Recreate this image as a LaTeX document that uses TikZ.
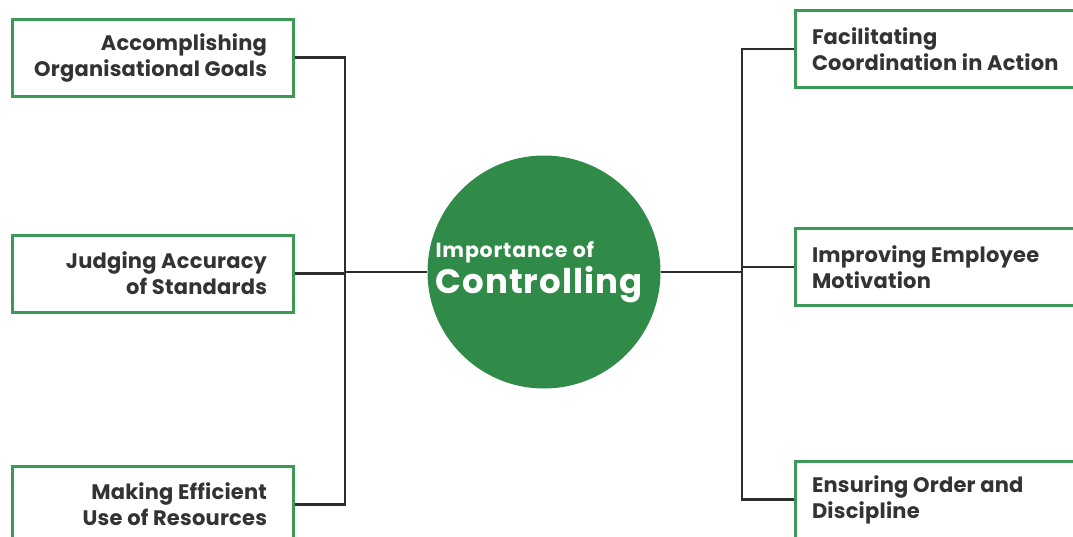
\documentclass[tikz,border=0pt]{standalone}
\usepackage{fontspec}
\setmainfont{Poppins}
\definecolor{boxgreen}{HTML}{3C9A58}
\definecolor{circgreen}{HTML}{2F8B47}
\definecolor{txt}{HTML}{333333}
\definecolor{linec}{HTML}{2E2E2E}
\newcommand{\LL}[1]{\makebox[229pt][r]{#1}}
\newcommand{\RL}[1]{\makebox[247pt][l]{#1}}
\begin{document}
\begin{tikzpicture}[x=1pt,y=-1pt,
  box/.style={draw=boxgreen, line width=3pt, fill=white, minimum height=77pt,
    inner ysep=0pt, align=center, text=txt,
    font=\bfseries\fontsize{21}{26}\selectfont\addfontfeature{LetterSpace=1}},
  lbox/.style={box, inner xsep=26pt},
  rbox/.style={box, inner xsep=17pt},
  conn/.style={draw=linec, line width=2.8pt},
  hub/.style={circle, fill=circgreen, minimum size=233pt, inner sep=0pt,
    text=white, align=left}
]
\useasboundingbox (0,0) rectangle (1073,536);
\clip (0,0) rectangle (1073,536);
\fill[white] (0,0) rectangle (1073,536);

\node[hub] (c) at (544,272) {{\bfseries\fontsize{20.5}{22}\selectfont\addfontfeature{LetterSpace=4}Importance of}\\[3pt]{\bfseries\fontsize{34}{34}\selectfont\addfontfeature{LetterSpace=3}Controlling\kern10pt}};

\coordinate (jl) at (345,270);
\coordinate (jr) at (742,270);

\draw[conn] (c.west) -- (c.west -| jl);
\draw[conn] (c.east) -- (c.east -| jr);

\node[lbox] (l1) at (152.5,57.5) {\LL{Accomplishing}\\\LL{Organisational Goals}};
\node[lbox] (l2) at (152.5,273.5) {\LL{Judging Accuracy}\\\LL{of Standards}};
\node[lbox] (l3) at (152.5,504.5) {\LL{Making Efficient}\\\LL{Use of Resources}};

\node[rbox] (r1) at (935.5,49) {\RL{Facilitating}\\\RL{Coordination in Action}};
\node[rbox] (r2) at (935.5,267) {\RL{Improving Employee}\\\RL{Motivation}};
\node[rbox] (r3) at (935.5,499.5) {\RL{Ensuring Order and}\\\RL{Discipline}};

\draw[conn] (l1.east) -| (jl) |- (l3.east);
\draw[conn] (l2.east) -- (l2.east -| jl);
\draw[conn] (r1.west) -| (jr) |- (r3.west);
\draw[conn] (r2.west) -- (r2.west -| jr);
\end{tikzpicture}
\end{document}
